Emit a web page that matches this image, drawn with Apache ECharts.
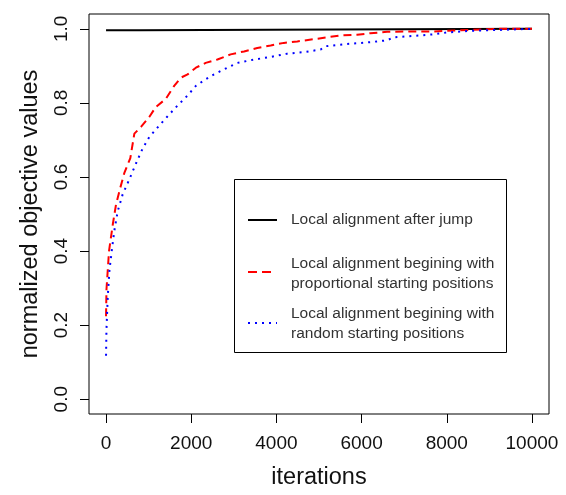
<!DOCTYPE html>
<html>
<head>
<meta charset="utf-8">
<script src="https://cdn.jsdelivr.net/npm/echarts@6/dist/echarts.min.js"></script>
<style>
  html, body { margin: 0; padding: 0; background: #fff; }
  #main { width: 566px; height: 495px; }
</style>
</head>
<body>
<div id="main"></div>
<script>
// values
var xTicks = [0, 2000, 4000, 6000, 8000, 10000];
var yTicks = [0, 0.2, 0.4, 0.6, 0.8, 1.0];

var jumpIter = [0, 780, 780, 10000];
var jumpVal = [0.996, 0.996, 1.0, 1.0];

var propIter = [0, 10, 70, 160, 235, 335, 430, 570, 665, 820, 1015, 1170, 1405, 1600, 1755, 1915, 2110,
  2340, 2615, 2925, 3240, 3550, 3865, 4175, 4490, 4880, 5190, 5505, 5895, 6205, 6600, 7220, 7690, 8315, 9170, 10000];
var propVal = [0.224, 0.296, 0.40, 0.473, 0.526, 0.571, 0.611, 0.651, 0.717, 0.735, 0.762, 0.789, 0.811, 0.846, 0.868, 0.877, 0.895,
  0.908, 0.917, 0.931, 0.939, 0.948, 0.955, 0.962, 0.966, 0.972, 0.977, 0.982, 0.984, 0.988, 0.992, 0.993, 0.993, 0.996, 1.0, 1.0];

var randIter = [0, 10, 40, 80, 135, 195, 275, 390, 545, 705, 860, 1015, 1250, 1430, 1680, 1915, 2110, 2340,
  2535, 2850, 3085, 3475, 3865, 4255, 4645, 5035, 5150, 5660, 6205, 6600, 6755, 7220, 7690, 8000, 8625, 9250, 10000];
var randVal = [0.117, 0.189, 0.277, 0.348, 0.402, 0.455, 0.508, 0.553, 0.593, 0.637, 0.677, 0.708, 0.739, 0.762, 0.793, 0.820, 0.846, 0.864,
  0.877, 0.895, 0.908, 0.917, 0.924, 0.933, 0.937, 0.944, 0.953, 0.959, 0.964, 0.969, 0.977, 0.981, 0.985, 0.990, 0.995, 0.997, 1.0];

var legendNames = [
  'Local alignment after jump',
  'Local alignment begining with\nproportional starting positions',
  'Local alignment begining with\nrandom starting positions'
];

function pairs(xs, ys) {
  return xs.map(function (x, i) { return [x, ys[i]]; });
}

var myChart = echarts.init(document.getElementById('main'));
var font = 'Liberation Sans, Arial, sans-serif';

option = {
  animation: false,
  backgroundColor: '#fff',
  grid: {
    left: 89, top: 14, width: 460, height: 404,
    show: true, borderColor: '#000', borderWidth: 1, backgroundColor: 'transparent'
  },
  xAxis: {
    type: 'value', min: -400, max: 10400,
    name: 'iterations', nameLocation: 'middle', nameGap: 52,
    nameTextStyle: { fontFamily: font, fontSize: 23.5, color: '#111' },
    axisLine: { show: false, onZero: false },
    splitLine: { show: false },
    axisTick: { show: true, length: 9, customValues: xTicks, lineStyle: { color: '#000' } },
    axisLabel: {
      customValues: xTicks, margin: 20, fontFamily: font, fontSize: 19, color: '#111',
      formatter: function (v) { return String(v); }
    }
  },
  yAxis: {
    type: 'value', min: -0.04, max: 1.04,
    name: 'normalized objective values', nameLocation: 'middle', nameGap: 46,
    nameTextStyle: { fontFamily: font, fontSize: 23.5, color: '#111' },
    axisLine: { show: false, onZero: false },
    splitLine: { show: false },
    axisTick: { show: true, length: 9, customValues: yTicks, lineStyle: { color: '#000' } },
    axisLabel: {
      customValues: yTicks, rotate: 90, margin: 18, fontFamily: font, fontSize: 19, color: '#111',
      formatter: function (v) { return v.toFixed(1); }
    }
  },
  series: [
    {
      name: legendNames[0], type: 'line', data: pairs(jumpIter, jumpVal), symbol: 'none',
      lineStyle: { color: '#000', width: 2 }
    },
    {
      name: legendNames[1], type: 'line', data: pairs(propIter, propVal), symbol: 'none',
      lineStyle: { color: '#ff0000', width: 2, type: [8, 5] }
    },
    {
      name: legendNames[2], type: 'line', data: pairs(randIter, randVal), symbol: 'none',
      lineStyle: { color: '#0000ff', width: 2, type: [2, 5] }
    }
  ],
  graphic: [
    { type: 'rect', shape: { x: 234.5, y: 179.5, width: 272, height: 173 },
      style: { fill: '#fff', stroke: '#000', lineWidth: 1 }, z: 10 },
    { type: 'line', shape: { x1: 248, y1: 220, x2: 277, y2: 220 },
      style: { stroke: '#000', lineWidth: 2 }, z: 11 },
    { type: 'line', shape: { x1: 248, y1: 272, x2: 276, y2: 272 },
      style: { stroke: '#ff0000', lineWidth: 2, lineDash: [9, 5] }, z: 11 },
    { type: 'line', shape: { x1: 248, y1: 323, x2: 277, y2: 323 },
      style: { stroke: '#0000ff', lineWidth: 2, lineDash: [2, 5] }, z: 11 },
    { type: 'text', left: 291, top: 212, z: 11,
      style: { text: legendNames[0], font: '15.5px ' + font, fill: '#333' } },
    { type: 'text', left: 291, top: 254, z: 11,
      style: { text: legendNames[1], font: '15.5px ' + font, fill: '#333', lineHeight: 20 } },
    { type: 'text', left: 291, top: 304, z: 11,
      style: { text: legendNames[2], font: '15.5px ' + font, fill: '#333', lineHeight: 20 } }
  ]
};
myChart.setOption(option);
</script>
</body>
</html>
